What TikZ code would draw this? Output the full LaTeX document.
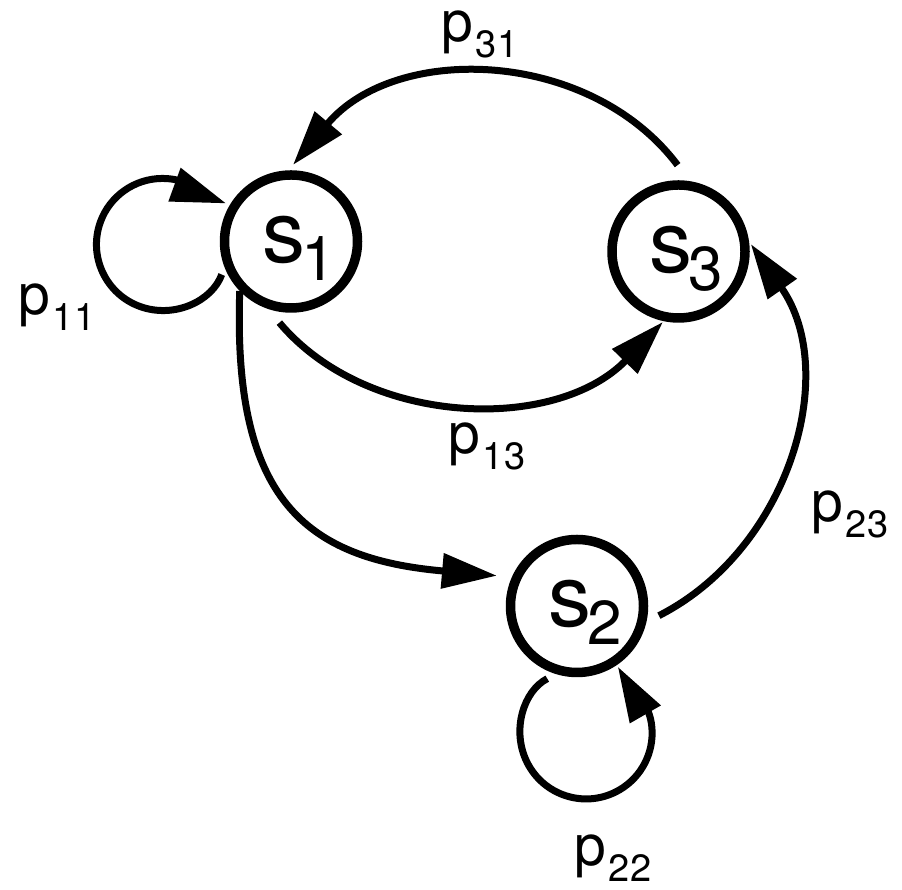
\documentclass[tikz,border=0pt]{standalone}
\usepackage{fontspec}
\setmainfont{TeX Gyre Heros}
\usetikzlibrary{arrows.meta}

\newcommand{\stname}[1]{\hspace*{16pt}s\hspace{-4pt}\raisebox{-18pt}{\fontsize{62}{62}\selectfont #1}}
\newcommand{\prob}[1]{p\hspace{3pt}\raisebox{-16pt}{\fontsize{38}{38}\selectfont #1}}

\begin{document}
\begin{tikzpicture}[x=1pt, y=1pt,
    state/.style={draw, circle, line width=9.5pt, minimum size=133pt, inner sep=0pt,
                  font=\fontsize{86}{86}\selectfont, text height=46pt, text depth=4pt},
    arr/.style={-{Triangle[length=55pt, width=34pt]}, line width=7pt},
    lab/.style={anchor=base west, inner sep=0pt, font=\fontsize{57}{57}\selectfont}
]
\useasboundingbox (0,0) rectangle (902,890);

\node[state] (s1) at (291,648.5) {\stname{1}};
\node[state] (s3) at (678.5,638.5) {\stname{3}};
\node[state] (s2) at (577,284) {\stname{2}};

% transitions between states
\draw[arr, shorten <=20pt, shorten >=7pt] (s3.81) to[out=127, in=50, looseness=1.06] (s1.92);
\draw[arr, shorten <=18pt, shorten >=1pt] (s1.251) to[out=310, in=226] (s3.258);
\draw[arr, shorten >=15pt] (s1.224) to[out=268, in=175, looseness=1.35] (s2.156);
\draw[arr, shorten <=14pt, shorten >=3pt] (s2.347) to[out=27, in=305, looseness=1.04] (s3.8);

% self loops
\draw[arr, shorten <=8pt, shorten >=4pt] (s1.201)
    arc[start angle=-20, end angle=-270, radius=66] to[out=0, in=160] (s1.149);
\draw[arr, shorten <=10pt, shorten >=2pt] (s2.253)
    arc[start angle=117, end angle=360, radius=66] to[out=90, in=300] (s2.304);

\node[lab] (p31) at (441,848) {\prob{31}};
\node[lab] (p11) at (18,575) {\prob{11}};
\node[lab] (p13) at (448,436) {\prob{13}};
\node[lab] (p23) at (811,368) {\prob{23}};
\node[lab] (p22) at (574,24) {\prob{22}};

\end{tikzpicture}
\end{document}
